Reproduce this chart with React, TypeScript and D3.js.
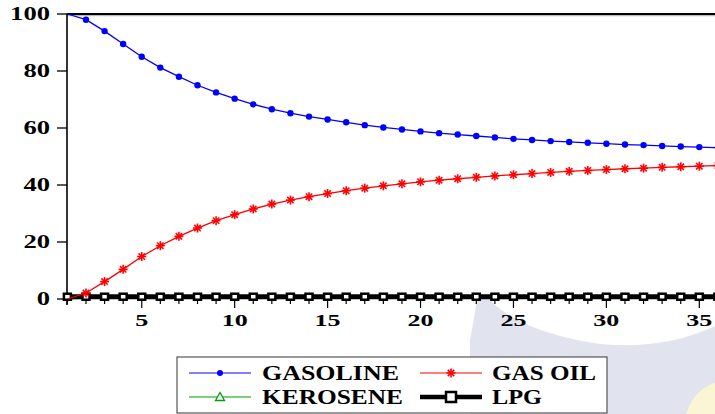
import React from "react";
import * as d3 from "d3";

const periods = d3.range(1, 37);
const gasoline = [100, 98, 94, 89.5, 85, 81.2, 78, 75, 72.5, 70.3, 68.3, 66.6, 65.2, 64, 63, 62, 61, 60.2, 59.5, 58.8, 58.2, 57.7, 57.2, 56.7, 56.2, 55.8, 55.4, 55.1, 54.8, 54.5, 54.2, 54, 53.7, 53.5, 53.3, 53.1];
const gasoil = [0, 2.1, 6.1, 10.4, 14.9, 18.7, 22, 24.9, 27.5, 29.6, 31.6, 33.3, 34.7, 35.9, 37, 38, 38.9, 39.7, 40.4, 41.1, 41.7, 42.2, 42.7, 43.2, 43.6, 44, 44.4, 44.8, 45.1, 45.4, 45.7, 45.9, 46.2, 46.4, 46.6, 46.8];
const kerosene = [0, 0.2, 0.2, 0.2, 0.2, 0.2, 0.2, 0.2, 0.2, 0.2, 0.2, 0.2, 0.2, 0.2, 0.2, 0.2, 0.2, 0.2, 0.2, 0.2, 0.2, 0.2, 0.2, 0.2, 0.2, 0.2, 0.2, 0.2, 0.2, 0.2, 0.2, 0.2, 0.2, 0.2, 0.2, 0.2];
const lpg = [0.8, 0.8, 0.8, 0.8, 0.8, 0.8, 0.8, 0.8, 0.8, 0.8, 0.8, 0.8, 0.8, 0.8, 0.8, 0.8, 0.8, 0.8, 0.8, 0.8, 0.8, 0.8, 0.8, 0.8, 0.8, 0.8, 0.8, 0.8, 0.8, 0.8, 0.8, 0.8, 0.8, 0.8, 0.8, 0.8];
const yTicks = [0, 20, 40, 60, 80, 100];
const xTicks = [5, 10, 15, 20, 25, 30, 35];
const legendNames = ["GASOLINE", "GAS OIL", "KEROSENE", "LPG"];

const FONT = "Liberation Serif";

export default function App() {
  const x = d3.scaleLinear().domain([1, 36]).range([67.4, 717.9]);
  const y = d3.scaleLinear().domain([0, 100]).range([299, 14]);
  const line = (vals: number[]) =>
    d3.line<number>().x((_, i) => x(periods[i])).y((v) => y(v))(vals) || "";

  const star = (cx: number, cy: number, r: number, key: any, color: string) => (
    <g key={key} stroke={color} strokeWidth={1.6}>
      {[0, 45, 90, 135].map((a) => {
        const rad = (a * Math.PI) / 180;
        return (
          <line
            key={a}
            x1={cx - r * Math.cos(rad)}
            y1={cy - r * Math.sin(rad)}
            x2={cx + r * Math.cos(rad)}
            y2={cy + r * Math.sin(rad)}
          />
        );
      })}
    </g>
  );

  const legendItems = [
    { name: legendNames[0], color: "#0000ff", lx: 189, ty: 380, tx: 262, tl: 137 },
    { name: legendNames[1], color: "#ff0000", lx: 420, ty: 380, tx: 492, tl: 104 },
    { name: legendNames[2], color: "#00a000", lx: 189, ty: 404, tx: 262, tl: 141 },
    { name: legendNames[3], color: "#000000", lx: 420, ty: 404, tx: 492, tl: 50 },
  ];

  const textStyle = { fontFamily: FONT, fontWeight: 700 } as React.CSSProperties;

  return (
    <svg
      width={715}
      height={414}
      style={{ position: "absolute", left: 0, top: 0, background: "#fff" }}
    >
      {/* watermark */}
      <path
        d="M477,299 L489,299 Q520,332 600,344 Q665,350 715,326 L715,414 L470,414 L470,340 Q474,320 477,299 Z"
        fill="#e1e3ef"
      />
      <circle cx={730} cy={425} r={45} fill="#fbf5d6" />

      <defs>
        <clipPath id="plotclip">
          <rect x={60} y={5} width={660} height={300} />
        </clipPath>
      </defs>

      {/* frame */}
      <line x1={67} x2={715} y1={15.5} y2={15.5} stroke="#bbb" strokeWidth={1.5} />
      <line x1={67} x2={715} y1={14} y2={14} stroke="#000" strokeWidth={1.8} />
      <line x1={67} x2={67} y1={14} y2={305} stroke="#000" strokeWidth={1.6} />

      {/* y ticks */}
      {yTicks.map((t) => (
        <g key={t}>
          <line x1={57} x2={67} y1={y(t)} y2={y(t)} stroke="#000" strokeWidth={1.3} />
          <text
            x={50}
            y={y(t) + 6}
            textAnchor="end"
            style={textStyle}
            fontSize={18}
            textLength={String(t).length * 13.3}
            lengthAdjust="spacingAndGlyphs"
          >
            {t}
          </text>
        </g>
      ))}

      {/* x ticks */}
      {periods.map((p) => (
        <line
          key={p}
          x1={x(p)}
          x2={x(p)}
          y1={299}
          y2={xTicks.includes(p) ? 308 : 304}
          stroke="#000"
          strokeWidth={1.2}
        />
      ))}
      {xTicks.map((t) => (
        <text
          key={t}
          x={x(t)}
          y={326}
          textAnchor="middle"
          style={textStyle}
          fontSize={17}
          textLength={String(t).length * 13}
          lengthAdjust="spacingAndGlyphs"
        >
          {t}
        </text>
      ))}

      <g clipPath="url(#plotclip)">
        {/* kerosene */}
        <path d={line(kerosene)} fill="none" stroke="#00a000" strokeWidth={1} />
        {/* LPG */}
        <path d={line(lpg)} fill="none" stroke="#000" strokeWidth={5} />
        {lpg.map((v, i) => (
          <rect
            key={i}
            x={x(periods[i]) - 3.5}
            y={y(v) - 3}
            width={7}
            height={6}
            fill="#fff"
            stroke="#000"
            strokeWidth={2.5}
          />
        ))}
        {/* gasoline */}
        <path d={line(gasoline)} fill="none" stroke="#0000ff" strokeWidth={1.3} />
        {gasoline.map((v, i) =>
          i === 0 ? null : (
            <circle key={i} cx={x(periods[i])} cy={y(v)} r={3.2} fill="#0000ff" />
          )
        )}
        {/* gas oil */}
        <path d={line(gasoil)} fill="none" stroke="#ff0000" strokeWidth={1.3} />
        {gasoil.map((v, i) => (i === 0 ? null : star(x(periods[i]), y(v), 4.5, i, "#ff0000")))}
      </g>

      {/* legend */}
      <rect x={177} y={357} width={430} height={56} fill="#fff" stroke="#555" strokeWidth={1.2} />
      {legendItems.map((it, k) => {
        const cy = it.ty - 7;
        const cx = it.lx + 31;
        return (
          <g key={it.name}>
            <line
              x1={it.lx}
              x2={it.lx + 62}
              y1={cy}
              y2={cy}
              stroke={it.color}
              strokeWidth={k === 3 ? 4.5 : 1.2}
            />
            {k === 0 && <circle cx={cx} cy={cy} r={3} fill={it.color} />}
            {k === 1 && star(cx, cy, 4.5, "ls", it.color)}
            {k === 2 && (
              <path
                d={`M${cx},${cy - 4.5} L${cx + 4.5},${cy + 3.5} L${cx - 4.5},${cy + 3.5} Z`}
                fill="#fff"
                stroke={it.color}
                strokeWidth={1.3}
              />
            )}
            {k === 3 && (
              <rect x={cx - 5} y={cy - 5} width={10} height={10} fill="#fff" stroke="#000" strokeWidth={2.5} />
            )}
            <text
              x={it.tx}
              y={it.ty}
              style={textStyle}
              fontSize={20}
              textLength={it.tl}
              lengthAdjust="spacingAndGlyphs"
            >
              {it.name}
            </text>
          </g>
        );
      })}
    </svg>
  );
}
